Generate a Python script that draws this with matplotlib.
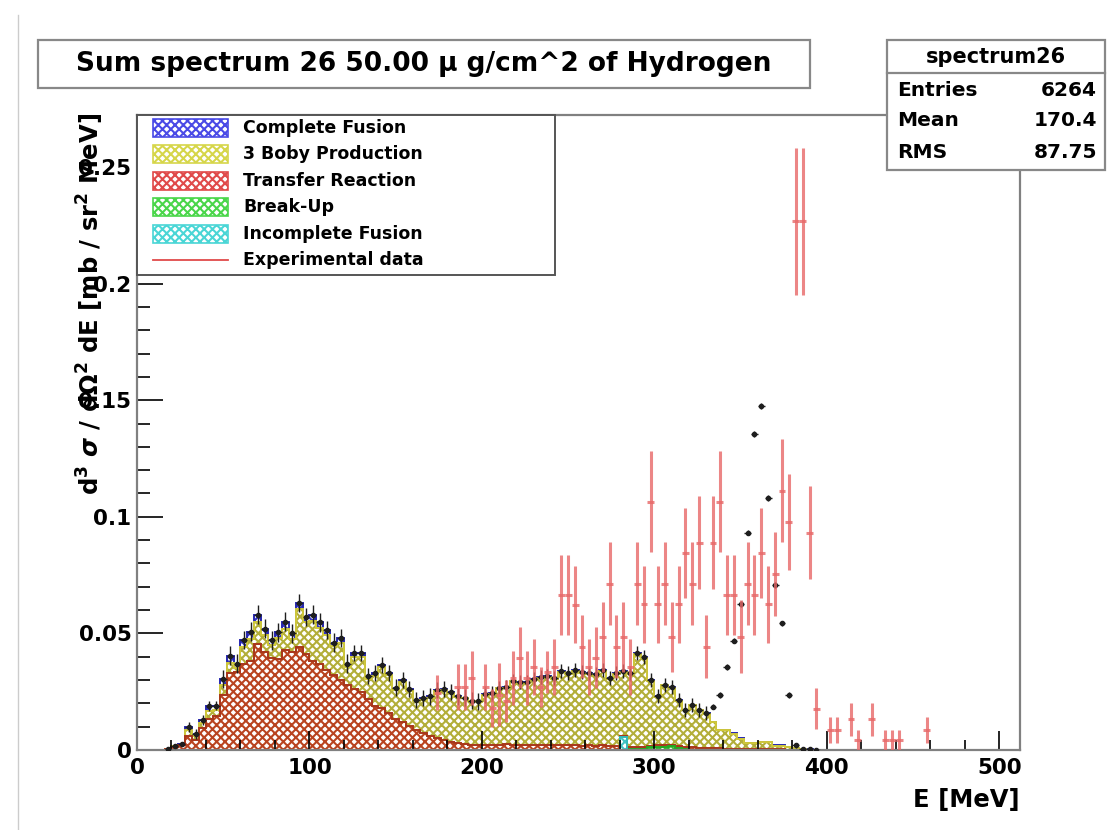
import numpy as np
import matplotlib
matplotlib.use('Agg')
import matplotlib.pyplot as plt
from matplotlib.patches import Rectangle
from matplotlib.lines import Line2D
from matplotlib.ticker import MultipleLocator, FuncFormatter

# histogram binning: 4 MeV bins from 0 to 400 MeV
edges = np.arange(0, 404, 4)

# stacked tops as drawn (THStack cumulative heights), per bin
top_complete = [0, 0, 0, 0, 0.0006, 0.0018, 0.0026, 0.0098, 0.0068, 0.0128,
                0.0188, 0.0190, 0.0305, 0.0405, 0.0370, 0.0472, 0.0507, 0.0580, 0.0520, 0.0470,
                0.0505, 0.0550, 0.0500, 0.0630, 0.0570, 0.0580, 0.0548, 0.0515, 0.0460, 0.0480,
                0.0370, 0.0415, 0.0415, 0.0318, 0.0330, 0.0365, 0.0330, 0.0268, 0.0300, 0.0262,
                0.0215, 0.0222, 0.0230, 0.0258, 0.0262, 0.0250, 0.0230, 0.0225, 0.0212, 0.0208,
                0.0238, 0.0245, 0.0268, 0.0272, 0.0298, 0.0292, 0.0290, 0.0305, 0.0312, 0.0318,
                0.0310, 0.0338, 0.0330, 0.0342, 0.0335, 0.0330, 0.0325, 0.0343, 0.0310, 0.0330,
                0.0340, 0.0332, 0.0415, 0.0400, 0.0300, 0.0230, 0.0280, 0.0270, 0.0214, 0.0172,
                0.0193, 0.0172, 0.0157, 0.0121, 0.0086, 0.0086, 0.0071, 0.0050, 0.0030, 0.0030,
                0.0035, 0.0035, 0.0020, 0.0020, 0.0012, 0.0010, 0.0005, 0.0003, 0.0002, 0.0]
top_3body = [0, 0, 0, 0, 0.0005, 0.0016, 0.0023, 0.0086, 0.0060, 0.0117,
             0.0168, 0.0172, 0.0280, 0.0372, 0.0352, 0.0440, 0.0478, 0.0550, 0.0495, 0.0450,
             0.0480, 0.0520, 0.0475, 0.0605, 0.0550, 0.0555, 0.0525, 0.0495, 0.0445, 0.0460,
             0.0355, 0.0400, 0.0400, 0.0305, 0.0318, 0.0355, 0.0320, 0.0258, 0.0290, 0.0254,
             0.0208, 0.0215, 0.0224, 0.0252, 0.0256, 0.0245, 0.0226, 0.0221, 0.0208, 0.0204,
             0.0234, 0.0241, 0.0264, 0.0268, 0.0294, 0.0288, 0.0286, 0.0301, 0.0308, 0.0314,
             0.0306, 0.0334, 0.0326, 0.0338, 0.0331, 0.0326, 0.0321, 0.0339, 0.0306, 0.0326,
             0.0336, 0.0328, 0.0411, 0.0396, 0.0297, 0.0227, 0.0277, 0.0267, 0.0211, 0.0170,
             0.0191, 0.0170, 0.0155, 0.0119, 0.0084, 0.0084, 0.0069, 0.0048, 0.0029, 0.0029,
             0.0034, 0.0034, 0.0019, 0.0019, 0.0011, 0.0009, 0.0004, 0.0002, 0.0001, 0.0]
top_transfer = [0, 0, 0, 0, 0.0004, 0.0014, 0.0020, 0.0058, 0.0042, 0.0094,
                0.0135, 0.0145, 0.0236, 0.0330, 0.0335, 0.0370, 0.0380, 0.0455, 0.0420, 0.0395,
                0.0390, 0.0430, 0.0420, 0.0440, 0.0410, 0.0380, 0.0370, 0.0345, 0.0320, 0.0300,
                0.0280, 0.0260, 0.0250, 0.0220, 0.0190, 0.0180, 0.0160, 0.0135, 0.0120, 0.0105,
                0.0085, 0.0075, 0.0062, 0.0050, 0.0042, 0.0035, 0.0030, 0.0025, 0.0022, 0.0020,
                0.0022, 0.0020, 0.0022, 0.0025, 0.0022, 0.0020, 0.0022, 0.0020, 0.0020, 0.0022,
                0.0020, 0.0022, 0.0020, 0.0020, 0.0018, 0.0020, 0.0018, 0.0020, 0.0018, 0.0018,
                0.0060, 0.0015, 0.0015, 0.0015, 0.0018, 0.0020, 0.0020, 0.0022, 0.0018, 0.0012,
                0.0012, 0.0010, 0.0010, 0.0008, 0.0008, 0.0006, 0.0006, 0.0005, 0.0005, 0.0004,
                0.0004, 0.0004, 0.0003, 0.0003, 0.0002, 0.0002, 0.0001, 0, 0, 0]
top_breakup = ([0.0] * 4 + [0.0002] * 66 + [0.0056] + [0.0003] * 3
               + [0.0012, 0.0015, 0.0014, 0.0016, 0.0010, 0.0006] + [0.0002] * 16 + [0.0] * 4)
top_incomplete = [0.0] * 4 + [0.0001] * 66 + [0.0055] + [0.0001] * 25 + [0.0] * 4

# summed spectrum (black points): follows stack top, except the 332-384 MeV peak
sum_peak_vals = [0.0186, 0.0236, 0.0355, 0.0469, 0.0626, 0.0932, 0.1355,
                 0.1475, 0.1080, 0.0708, 0.0543, 0.0236, 0.0020]
sum_err = ([0.0] * 4 + [0.0008] * 3 + [0.002] * 5 + [0.004] * 19 + [0.0035] * 20
           + [0.003] * 32 + [0.0012] * 13 + [0.0] * 4)

# experimental data
exp_e = [174, 186, 190, 194, 202, 206, 210, 214, 218, 222, 226, 230, 234, 238, 242,
         246, 250, 254, 258, 262, 266, 270, 274, 278, 282, 286, 290, 294, 298, 302,
         306, 310, 314, 318, 322, 326, 330, 334, 338, 342, 346, 350, 354, 358, 362,
         366, 370, 374, 378, 382, 386, 390, 394, 402, 406, 414, 418, 426, 434, 438,
         442, 458]
exp_val = [0.0245, 0.0270, 0.0270, 0.0310, 0.0270, 0.0180, 0.0236, 0.0210, 0.0310, 0.0396,
           0.0310, 0.0357, 0.0270, 0.0336, 0.0357, 0.0665, 0.0665, 0.0622, 0.0443, 0.0357,
           0.0396, 0.0486, 0.0712, 0.0443, 0.0486, 0.0357, 0.0712, 0.0625, 0.1065, 0.0625,
           0.0712, 0.0486, 0.0625, 0.0843, 0.0712, 0.0889, 0.0443, 0.0889, 0.1065, 0.0665,
           0.0665, 0.0486, 0.0712, 0.0665, 0.0843, 0.0625, 0.0753, 0.1112, 0.0979, 0.2268,
           0.2268, 0.0932, 0.0177, 0.0086, 0.0086, 0.0131, 0.0043, 0.0131, 0.0043, 0.0043,
           0.0043, 0.0086]
exp_err = [0.0075, 0.0100, 0.0100, 0.0115, 0.0100, 0.0080, 0.0135, 0.0090, 0.0115, 0.0130,
           0.0115, 0.0120, 0.0085, 0.0090, 0.0120, 0.0170, 0.0170, 0.0165, 0.0135, 0.0120,
           0.0130, 0.0150, 0.0178, 0.0135, 0.0150, 0.0120, 0.0178, 0.0165, 0.0216, 0.0165,
           0.0178, 0.0150, 0.0165, 0.0193, 0.0178, 0.0199, 0.0135, 0.0199, 0.0216, 0.0170,
           0.0170, 0.0157, 0.0178, 0.0170, 0.0193, 0.0165, 0.0180, 0.0220, 0.0205, 0.0315,
           0.0315, 0.0200, 0.0087, 0.0057, 0.0057, 0.0072, 0.0043, 0.0072, 0.0043, 0.0043,
           0.0043, 0.0057]

legend_labels = ['Complete Fusion', '3 Boby Production', 'Transfer Reaction',
                 'Break-Up', 'Incomplete Fusion', 'Experimental data']
stats_rows = [('Entries', '6264'), ('Mean', '170.4'), ('RMS', '87.75')]

W, H = 1109, 830
plt.rcParams['hatch.linewidth'] = 1.5
plt.rcParams['font.family'] = 'DejaVu Sans'
plt.rcParams['font.weight'] = 'bold'
HATCH = 'xxxx'


def fx(px):
    return px / W


def fy(py):
    return 1 - py / H


fig = plt.figure(figsize=(W / 100, H / 100), dpi=100)
ax = fig.add_axes([fx(137), fy(750), (1020 - 137) / W, (750 - 115) / H])

layers = [
    (top_complete, '#3333c4', '#2626b0'),
    (top_3body, '#b3ae3a', '#cfc83a'),
    (top_transfer, '#b94420', '#a8361a'),
    (top_breakup, '#33bb33', '#22aa22'),
    (top_incomplete, '#44c4c4', '#33bbbb'),
]
for vals, hc, lc in layers:
    ax.stairs(vals, edges, fill=True, facecolor='white', edgecolor=hc,
              hatch=HATCH, linewidth=0)
    ax.stairs(vals, edges, color=lc, lw=1.4)

centers = edges[:-1] + 2
sum_vals = np.array(top_complete)
sum_vals[83:96] = sum_peak_vals
sum_err = np.array(sum_err)
m = sum_vals > 0
ax.errorbar(centers[m], sum_vals[m], xerr=2, yerr=sum_err[m], fmt='o', ms=3,
            color='#1e1e1e', elinewidth=1.0, capsize=0, zorder=5)

ax.errorbar(exp_e, exp_val, xerr=2, yerr=exp_err, fmt='none', ecolor='#e86868',
            elinewidth=2.2, capsize=0, alpha=0.8, zorder=6)

ax.set_xlim(0, 512)
ax.set_ylim(0, 0.2723)
ax.xaxis.set_major_locator(MultipleLocator(100))
ax.xaxis.set_minor_locator(MultipleLocator(20))
ax.yaxis.set_major_locator(MultipleLocator(0.05))
ax.yaxis.set_minor_locator(MultipleLocator(0.01))
ax.yaxis.set_major_formatter(FuncFormatter(lambda v, p: f'{v:g}'))
ax.tick_params(which='both', direction='in', colors='black', width=1.2, labelsize=15.5)
ax.tick_params(axis='y', which='major', length=19, pad=4)
ax.tick_params(axis='y', which='minor', length=9.5)
ax.tick_params(axis='x', which='major', length=13.5, pad=6)
ax.tick_params(axis='x', which='minor', length=7)
for lab in ax.get_xticklabels() + ax.get_yticklabels():
    lab.set_fontweight('bold')
for sp in ax.spines.values():
    sp.set_color('#808080')
    sp.set_linewidth(1.6)

# axis titles
fig.text(fx(1020), fy(800), 'E [MeV]', ha='right', va='center', fontsize=17.5,
         fontweight='bold')
fig.text(fx(90), fy(113), r'd$^{3}$ $\sigma$ / d$\Omega^{2}$ dE [mb / sr$^{2}$ MeV]',
         rotation=90, ha='center', va='top', fontsize=17.5, fontweight='bold')

# canvas edge
fig.add_artist(Line2D([fx(18), fx(18)], [fy(15), fy(830)], color='#cccccc', lw=1))

# title box
fig.add_artist(Rectangle((fx(38), fy(88)), (810 - 38) / W, (88 - 40) / H,
                         transform=fig.transFigure, facecolor='white',
                         edgecolor='#888888', lw=1.6, zorder=2))
fig.text(fx(424), fy(64), 'Sum spectrum 26 50.00 \u03bc g/cm^2 of Hydrogen',
         ha='center', va='center', fontsize=19, fontweight='bold', zorder=3)

# stats box
fig.add_artist(Rectangle((fx(887), fy(170)), (1105 - 887) / W, (170 - 40) / H,
                         transform=fig.transFigure, facecolor='white',
                         edgecolor='#888888', lw=1.6, zorder=2))
fig.add_artist(Line2D([fx(887), fx(1105)], [fy(73), fy(73)], color='#888888', lw=1.6,
                      zorder=3))
fig.text(fx(996), fy(57), 'spectrum26', ha='center', va='center', fontsize=15,
         fontweight='bold', zorder=3)
for i, (k, v) in enumerate(stats_rows):
    yy = 90 + i * 31
    fig.text(fx(897), fy(yy), k, ha='left', va='center', fontsize=14.5,
             fontweight='bold', zorder=3)
    fig.text(fx(1097), fy(yy), v, ha='right', va='center', fontsize=14.5,
             fontweight='bold', zorder=3)

# legend
fig.add_artist(Rectangle((fx(137), fy(275)), (555 - 137) / W, (275 - 115) / H,
                         transform=fig.transFigure, facecolor='white',
                         edgecolor='#555555', lw=1.4, zorder=2))
swatch_colors = ['#4a4ae6', '#d6d64a', '#e04a4a', '#4ad64a', '#4ad6d6']
leg_y = [128, 154, 181, 207, 234, 260]
for i, lab in enumerate(legend_labels):
    yy = leg_y[i]
    if i < 5:
        fig.add_artist(Rectangle((fx(153), fy(yy + 9)), 75 / W, 18 / H,
                                 transform=fig.transFigure, facecolor='white',
                                 edgecolor=swatch_colors[i], hatch=HATCH, lw=1.2,
                                 zorder=3))
    else:
        fig.add_artist(Line2D([fx(153), fx(228)], [fy(yy), fy(yy)], color='#e04a4a',
                              lw=1.3, zorder=3))
    fig.text(fx(243), fy(yy), lab, ha='left', va='center', fontsize=12.5,
             fontweight='bold', zorder=3)

fig.savefig('out.png', dpi=100)
